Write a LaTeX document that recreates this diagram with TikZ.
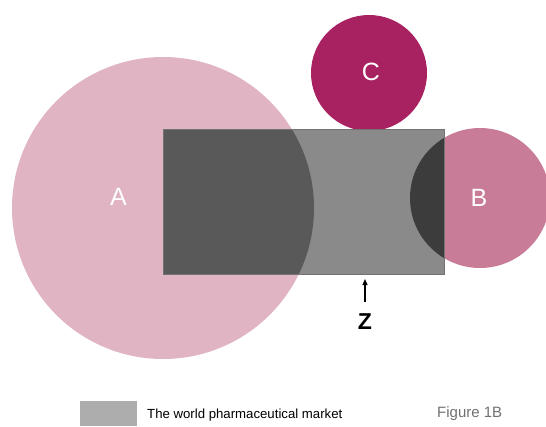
\documentclass[tikz,border=0pt]{standalone}
\usepackage{fontspec}
\setmainfont{Liberation Sans}
\usetikzlibrary{arrows.meta}
\definecolor{setA}{HTML}{E0B4C3}
\definecolor{setB}{HTML}{C97C97}
\definecolor{setC}{HTML}{A82261}
\definecolor{market}{HTML}{8A8A8A}
\definecolor{marketA}{HTML}{595959}
\definecolor{marketB}{HTML}{3C3C3C}
\definecolor{legendgray}{HTML}{ADADAD}
\definecolor{captiongray}{HTML}{707070}
\tikzset{
  setlabel/.style={text=white, font=\fontsize{25}{25}\selectfont},
}
\begin{document}
\begin{tikzpicture}[x=1pt, y=-1pt]
  \useasboundingbox (0,0) rectangle (546,426);
  % the three sets
  \fill[setA] (163,208) circle[radius=151];
  \fill[setB] (480,198) circle[radius=70];
  \fill[setC] (369,73) circle[radius=58];
  % the market rectangle and its overlaps
  \fill[market] (163,129) rectangle (444,274);
  \begin{scope}
    \clip (163,208) circle[radius=151];
    \fill[marketA] (163,129) rectangle (444,274);
  \end{scope}
  \begin{scope}
    \clip (480,198) circle[radius=70];
    \fill[marketB] (163,129) rectangle (444,274);
  \end{scope}
  \node[draw=black!55, line width=0.6pt, minimum width=281pt, minimum height=145pt,
        inner sep=0pt, anchor=north west] (market) at (163,129) {};
  % labels
  \node[setlabel] (la) at (118.5,197) {A};
  \node[setlabel] (lb) at (479,198) {B};
  \node[setlabel] (lc) at (371,72) {C};
  \node[font=\bfseries\fontsize{23}{23}\selectfont] (lz) at (365,322) {Z};
  \coordinate (ztip) at (365,279);
  \draw[line width=1.2pt, -{Triangle[length=6pt, width=5pt]}] (365,302) -- (ztip);
  % legend
  \fill[legendgray] (80,401) rectangle (137,426);
  \node[anchor=west, font=\fontsize{13.2}{13.2}\selectfont, inner sep=0pt] (legend) at (147,415) {The world pharmaceutical market};
  \node[anchor=west, text=captiongray, font=\fontsize{15}{15}\selectfont, inner sep=0pt] (caption) at (437,414) {Figure 1B};
\end{tikzpicture}
\end{document}
